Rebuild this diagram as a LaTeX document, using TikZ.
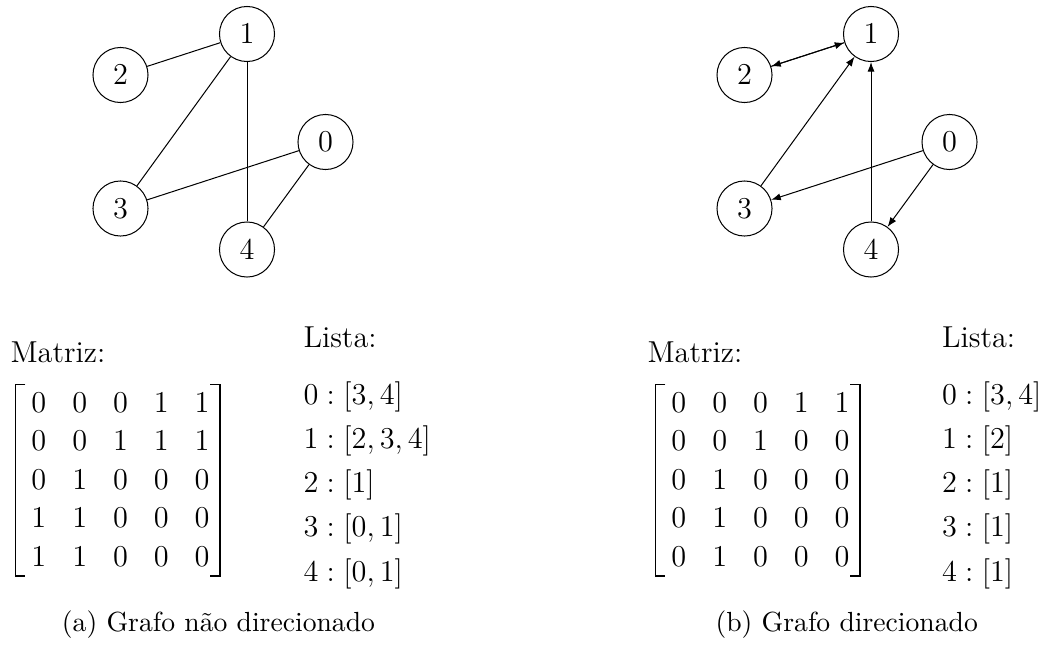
\documentclass[tikz,border=0pt]{standalone}
\usepackage{amsmath}
\usetikzlibrary{matrix,arrows.meta,calc}
\begin{document}
\begin{tikzpicture}[x=0.396pt,y=-0.396pt,
  every node/.style={font=\fontsize{12}{14.5}\selectfont},
  vtx/.style={draw,circle,minimum size=21.8pt,inner sep=0pt,line width=0.4pt},
  edge/.style={line width=0.4pt},
  arc/.style={line width=0.4pt,-{Latex[length=3.8pt,width=2.8pt]}},
  lbl/.style={anchor=base west,inner sep=0pt},
  captxt/.style={anchor=base,inner sep=0pt,font=\fontsize{10.95}{13.6}\selectfont},
  adj/.style={matrix of math nodes,inner sep=0pt,column sep=0pt,row sep=0pt,
     nodes={minimum width=16.16pt,minimum height=15.25pt,inner sep=0pt,anchor=center}},
  brk/.style={line width=0.5pt}]
\useasboundingbox (0,0) rectangle (1046,644);

% ---------- (a) undirected graph ----------
\node[vtx] (a1) at (247,34) {$1$};
\node[vtx] (a2) at (120.5,75) {$2$};
\node[vtx] (a0) at (325.5,142) {$0$};
\node[vtx] (a3) at (120.5,208.5) {$3$};
\node[vtx] (a4) at (247,249.5) {$4$};
\draw[edge] (a2) -- (a1);
\draw[edge] (a1) -- (a3);
\draw[edge] (a1) -- (a4);
\draw[edge] (a0) -- (a3);
\draw[edge] (a0) -- (a4);

\node[lbl] (aMt) at (10,362) {Matriz:};
\matrix (mA) [adj] at (120.5,479.7) {
0 & 0 & 0 & 1 & 1\\
0 & 0 & 1 & 1 & 1\\
0 & 1 & 0 & 0 & 0\\
1 & 1 & 0 & 0 & 0\\
1 & 1 & 0 & 0 & 0\\
};
\draw[brk] ($(mA.north west)+(7.5,1.5)$) -- ($(mA.north west)+(-2.5,1.5)$)
  -- ($(mA.south west)+(-2.5,-0.5)$) -- ($(mA.south west)+(7.5,-0.5)$);
\draw[brk] ($(mA.north east)+(-13,1.5)$) -- ($(mA.north east)+(-3,1.5)$)
  -- ($(mA.south east)+(-3,-0.5)$) -- ($(mA.south east)+(-13,-0.5)$);

\node[lbl] (aLt) at (303,347) {Lista:};
\node[lbl] (aL0) at (303,404) {$0:[3,4]$};
\node[lbl] (aL1) at (303,448.25) {$1:[2,3,4]$};
\node[lbl] (aL2) at (303,492.5) {$2:[1]$};
\node[lbl] (aL3) at (303,536.75) {$3:[0,1]$};
\node[lbl] (aL4) at (303,581) {$4:[0,1]$};

\node[captxt] (capA) at (218.5,631) {(a) Grafo não direcionado};

% ---------- (b) directed graph ----------
\node[vtx] (b1) at (871,34) {$1$};
\node[vtx] (b2) at (744.5,75) {$2$};
\node[vtx] (b0) at (949.5,142) {$0$};
\node[vtx] (b3) at (744.5,208.5) {$3$};
\node[vtx] (b4) at (871,249.5) {$4$};
\draw[arc] (b2) -- (b1);
\draw[arc] (b1) -- (b2);
\draw[arc] (b3) -- (b1);
\draw[arc] (b4) -- (b1);
\draw[arc] (b0) -- (b3);
\draw[arc] (b0) -- (b4);

\node[lbl] (bMt) at (647,362) {Matriz:};
\matrix (mB) [adj] at (760.5,479.7) {
0 & 0 & 0 & 1 & 1\\
0 & 0 & 1 & 0 & 0\\
0 & 1 & 0 & 0 & 0\\
0 & 1 & 0 & 0 & 0\\
0 & 1 & 0 & 0 & 0\\
};
\draw[brk] ($(mB.north west)+(7.5,1.5)$) -- ($(mB.north west)+(-2.5,1.5)$)
  -- ($(mB.south west)+(-2.5,-0.5)$) -- ($(mB.south west)+(7.5,-0.5)$);
\draw[brk] ($(mB.north east)+(-13,1.5)$) -- ($(mB.north east)+(-3,1.5)$)
  -- ($(mB.south east)+(-3,-0.5)$) -- ($(mB.south east)+(-13,-0.5)$);

\node[lbl] (bLt) at (941.5,347) {Lista:};
\node[lbl] (bL0) at (941.5,404) {$0:[3,4]$};
\node[lbl] (bL1) at (941.5,448.25) {$1:[2]$};
\node[lbl] (bL2) at (941.5,492.5) {$2:[1]$};
\node[lbl] (bL3) at (941.5,536.75) {$3:[1]$};
\node[lbl] (bL4) at (941.5,581) {$4:[1]$};

\node[captxt] (capB) at (846.7,631) {(b) Grafo direcionado};
\end{tikzpicture}
\end{document}
